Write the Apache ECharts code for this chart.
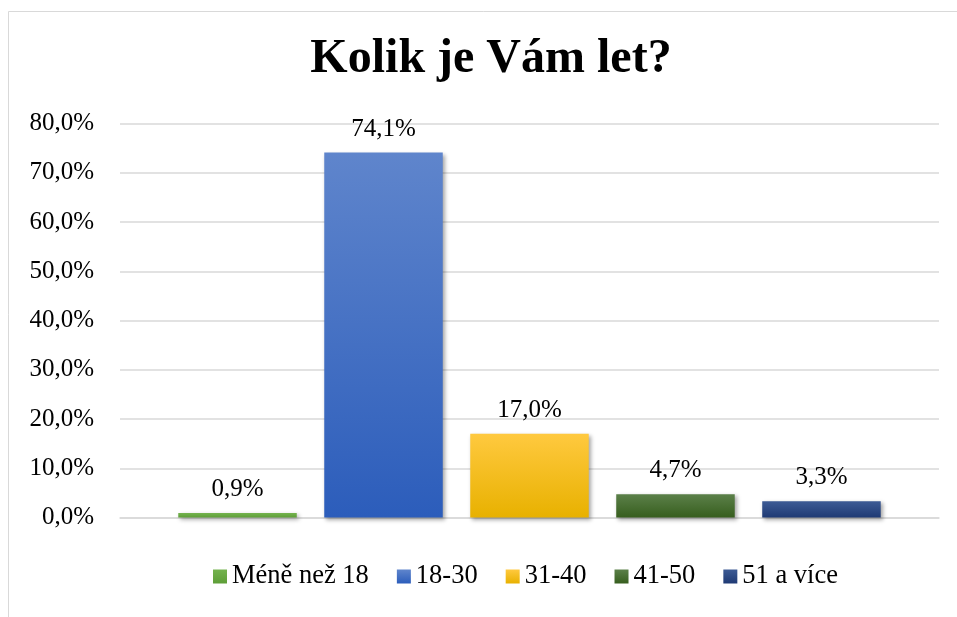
<!DOCTYPE html>
<html>
<head>
<meta charset="utf-8">
<script src="https://cdn.jsdelivr.net/npm/echarts@6/dist/echarts.min.js"></script>
<style>
html,body{margin:0;padding:0;background:#fff;}
#c{width:957px;height:617px;}
</style>
</head>
<body>
<div id="c"></div>
<script>
var titleText = 'Kolik je Vám let?';
var categories = ['Méně než 18', '18-30', '31-40', '41-50', '51 a více'];
var values = [0.9, 74.1, 17.0, 4.7, 3.3];
var colorTop = ['#74b34e', '#5f85cc', '#ffc93f', '#5b8049', '#3d5b95'];
var colorBottom = ['#5e9e38', '#2c5dbb', '#e8b100', '#375e1e', '#1f3a74'];
var yMin = 0, yMax = 80, yInterval = 10;

function fmt(v){ return v.toFixed(1).replace('.', ',') + '%'; }

var font = '"Liberation Serif", "Times New Roman", serif';
var series = categories.map(function(name, i){
  return {
    name: name,
    type: 'bar',
    data: [values[i]],
    barWidth: 118.5,
    barGap: '23.2%',
    itemStyle: {
      color: new echarts.graphic.LinearGradient(0, 0, 0, 1, [
        {offset: 0, color: colorTop[i]},
        {offset: 1, color: colorBottom[i]}
      ]),
      shadowColor: 'rgba(0,0,0,0.35)',
      shadowBlur: 4,
      shadowOffsetX: 2,
      shadowOffsetY: 2
    },
    label: {
      show: true,
      position: 'top',
      distance: 11,
      fontFamily: font,
      fontSize: 25,
      color: '#000',
      formatter: function(p){ return fmt(p.value); }
    }
  };
});

var chart = echarts.init(document.getElementById('c'));
chart.setOption({
  animation: false,
  backgroundColor: '#fff',
  title: {
    text: titleText,
    left: 486, textAlign: 'center',
    top: 31,
    textStyle: {fontFamily: font, fontSize: 48, fontWeight: 'bold', color: '#000'}
  },
  graphic: [{
    type: 'rect',
    shape: {x: 8.5, y: 11.5, width: 1200, height: 900},
    style: {fill: 'none', stroke: '#d9d9d9', lineWidth: 1},
    silent: true
  }],
  legend: {
    data: categories,
    left: 208,
    top: 558,
    itemWidth: 14,
    itemHeight: 14,
    itemGap: 28,
    icon: 'rect',
    textStyle: {fontFamily: font, fontSize: 26.5, color: '#000'}
  },
  grid: {left: 120, right: 18, top: 123.5, bottom: 99.5},
  xAxis: {
    type: 'category',
    data: [''],
    axisLine: {show: true, lineStyle: {color: '#d9d9d9', width: 1.5}},
    axisTick: {show: false},
    axisLabel: {show: false}
  },
  yAxis: {
    type: 'value',
    min: yMin, max: yMax, interval: yInterval,
    axisLine: {show: false},
    axisTick: {show: false},
    splitLine: {lineStyle: {color: '#d9d9d9', width: 1.5}},
    axisLabel: {
      fontFamily: font, fontSize: 25, color: '#000', margin: 26,
      formatter: function(v){ return fmt(v); }
    }
  },
  series: series
});
</script>
</body>
</html>
